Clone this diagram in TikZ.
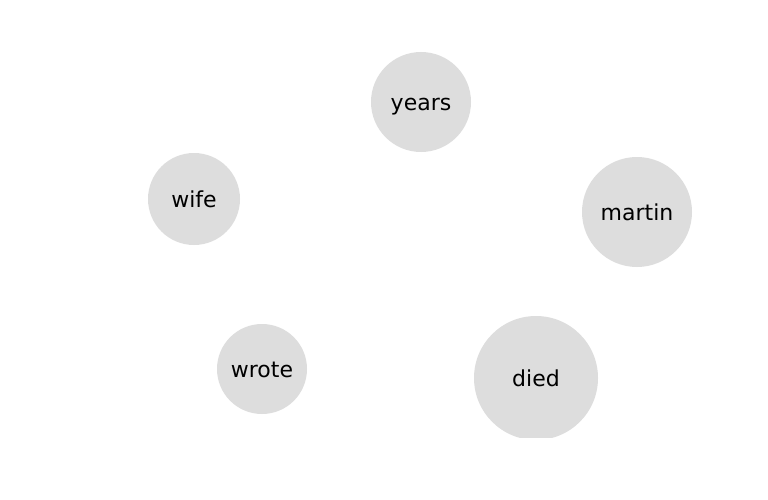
\documentclass[tikz,border=0pt]{standalone}
\usepackage{fontspec}
\setmainfont{DejaVu Sans}
\definecolor{nodegray}{HTML}{DDDDDD}
\begin{document}
\begin{tikzpicture}[x=1pt,y=-1pt,
  wordnode/.style={circle,fill=nodegray,inner sep=0pt,font=\fontsize{22}{26}\selectfont,text=black,text height=16.7pt,text depth=0pt}]
\useasboundingbox (0,0) rectangle (768,500);
\fill[white] (0,0) rectangle (768,500);
\node[wordnode,minimum size=100pt] (years) at (421,102) {years};
\node[wordnode,minimum size=92pt] (wife) at (194,199) {wife};
\node[wordnode,minimum size=110pt] (martin) at (637,212) {martin};
\node[wordnode,minimum size=90pt] (wrote) at (262,369) {wrote};
\begin{scope}
\clip (0,0) rectangle (768,437);
\node[wordnode,minimum size=124pt] (died) at (536,378) {died};
\end{scope}
\end{tikzpicture}
\end{document}
